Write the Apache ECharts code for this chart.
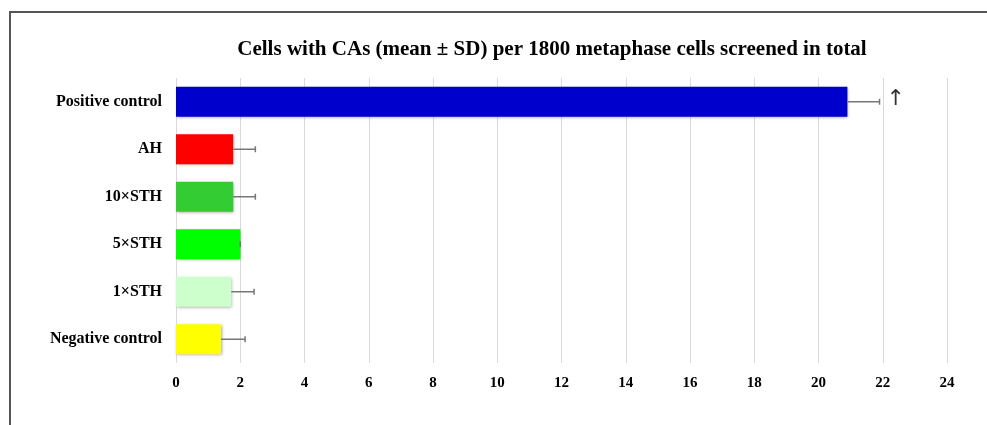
<!DOCTYPE html>
<html><head><meta charset="utf-8">
<script src="https://cdn.jsdelivr.net/npm/echarts@6/dist/echarts.min.js"></script>
<style>html,body{margin:0;padding:0;background:#fff}#c{width:987px;height:425px}</style>
</head><body><div id="c"></div>
<script>
const categories = ["Positive control", "AH", "10×STH", "5×STH", "1×STH", "Negative control"];
const means = [20.9, 1.78, 1.78, 2.0, 1.72, 1.4];
const sds = [1.0, 0.69, 0.69, 0.0, 0.71, 0.75];
const colors = ["#0000CC", "#FF0000", "#33CC33", "#00FF00", "#CCFFCC", "#FFFF00"];
const xTicks = [0, 24, 2];
const arrowPoint = [22.4, "Positive control"];
const titleText = "Cells with CAs (mean ± SD) per 1800 metaphase cells screened in total";

const chart = echarts.init(document.getElementById('c'));
const font = "'Liberation Serif', 'Times New Roman', serif";
const errData = categories.map((c, i) => [i, means[i] - sds[i], means[i] + sds[i]]);
chart.setOption({
  animation: false,
  title: { text: titleText, left: 547, top: 34, textAlign: 'center',
    textStyle: { fontFamily: font, fontWeight: 'bold', fontSize: 21, color: '#000' } },
  graphic: [
    { type: 'polyline', shape: { points: [[10, 425], [10, 12], [987, 12]] },
      style: { stroke: '#555', lineWidth: 2, fill: null } }
  ],
  grid: { left: 176, right: 40, top: 78, bottom: 62 },
  xAxis: {
    type: 'value', min: xTicks[0], max: xTicks[1], interval: xTicks[2],
    axisLine: { show: false }, axisTick: { show: false },
    splitLine: { lineStyle: { color: '#d9d9d9', width: 1 } },
    axisLabel: { fontFamily: font, fontWeight: 'bold', fontSize: 15, color: '#000', margin: 13 }
  },
  yAxis: {
    type: 'category', data: categories, inverse: true,
    axisLine: { show: false }, axisTick: { show: false },
    axisLabel: { fontFamily: font, fontWeight: 'bold', fontSize: 16, color: '#000', margin: 14 }
  },
  series: [
    {
      type: 'bar', barCategoryGap: '37%',
      data: means.map((v, i) => ({ value: v, itemStyle: { color: colors[i] } })),
      itemStyle: { shadowColor: 'rgba(0,0,0,0.35)', shadowBlur: 3, shadowOffsetX: 1, shadowOffsetY: 1 }
    },
    {
      type: 'custom', data: errData, z: 5,
      renderItem: function (params, api) {
        const i = api.value(0);
        const hi = api.coord([api.value(2), i]);
        const mid = api.coord([means[i], i]);
        const h = 3;
        return { type: 'group', children: [
          { type: 'line', shape: { x1: mid[0], y1: mid[1], x2: hi[0], y2: hi[1] }, style: { stroke: '#777', lineWidth: 1.5 } },
          { type: 'line', shape: { x1: hi[0], y1: hi[1] - h, x2: hi[0], y2: hi[1] + h }, style: { stroke: '#777', lineWidth: 1.5 } }
        ] };
      }
    },
    {
      type: 'scatter', data: [arrowPoint], symbolSize: 1, itemStyle: { color: 'rgba(0,0,0,0)' }, z: 6,
      label: { show: true, formatter: '↑', position: 'inside', fontFamily: "'DejaVu Sans', sans-serif", fontSize: 22, color: '#000', offset: [0, -2] }
    }
  ]
});
</script></body></html>
